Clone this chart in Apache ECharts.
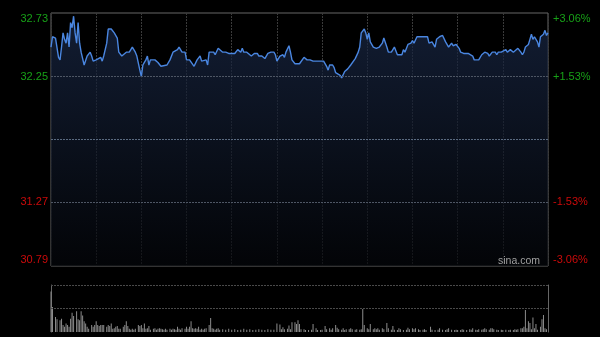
<!DOCTYPE html>
<html>
<head>
<meta charset="utf-8">
<script src="https://cdn.jsdelivr.net/npm/echarts@6/dist/echarts.min.js"></script>
<style>
html,body{margin:0;padding:0;background:#000;}
#chart{width:600px;height:337px;}
</style>
</head>
<body>
<div id="chart"></div>
<script>
// Intraday minutes (0 = open, 330 = close) and prices
var minutes = [0,1,3,4,5,6,7,8,9,10,11,12,13,14,15,16,17,18,19,20,21,22,23,24,26,27,28,30,31,33,34,35,37,38,39,40,41,42,44,45,47,48,50,52,54,55,56,57,59,60,61,62,63,64,65,66,69,71,73,77,79,81,82,84,85,87,89,90,92,93,95,97,99,100,103,104,105,108,109,111,114,116,117,118,122,124,125,126,127,128,130,133,135,137,138,140,142,144,146,148,149,150,152,154,155,156,158,159,160,162,165,166,168,170,171,172,174,177,181,183,184,185,187,188,189,192,193,195,197,198,199,202,204,205,206,208,209,210,211,212,214,216,218,220,221,223,224,226,228,229,230,233,234,235,237,239,240,241,243,247,248,250,251,253,255,256,258,260,261,262,264,266,267,269,271,272,274,277,280,281,284,286,288,290,291,293,295,296,297,299,302,303,305,307,308,310,312,313,314,315,317,318,319,320,321,323,324,325,327,328,329,330];
var prices = [32.48,32.56,32.55,32.56,32.40,32.38,32.48,32.59,32.54,32.51,32.59,32.48,32.67,32.63,32.72,32.59,32.51,32.67,32.51,32.44,32.44,32.34,32.34,32.41,32.44,32.41,32.37,32.38,32.37,32.40,32.37,32.41,32.51,32.62,32.63,32.62,32.63,32.59,32.55,32.44,32.41,32.42,32.44,32.44,32.48,32.46,32.44,32.41,32.30,32.25,32.34,32.36,32.38,32.41,32.34,32.38,32.38,32.36,32.33,32.34,32.38,32.44,32.44,32.46,32.48,32.44,32.44,32.38,32.38,32.37,32.33,32.38,32.41,32.37,32.38,32.34,32.44,32.44,32.42,32.47,32.44,32.44,32.44,32.43,32.43,32.46,32.47,32.44,32.47,32.44,32.44,32.41,32.43,32.43,32.41,32.41,32.39,32.43,32.44,32.44,32.42,32.37,32.41,32.42,32.40,32.44,32.49,32.44,32.38,32.35,32.35,32.34,32.40,32.38,32.37,32.38,32.37,32.37,32.37,32.33,32.30,32.34,32.34,32.32,32.28,32.26,32.24,32.29,32.31,32.30,32.34,32.39,32.44,32.48,32.59,32.62,32.59,32.54,32.59,32.52,32.48,32.47,32.48,32.51,32.55,32.48,32.44,32.44,32.48,32.48,32.42,32.42,32.46,32.44,32.50,32.51,32.53,32.51,32.56,32.56,32.55,32.56,32.51,32.52,32.48,32.54,32.56,32.57,32.56,32.52,32.48,32.51,32.49,32.50,32.47,32.44,32.43,32.43,32.41,32.38,32.38,32.42,32.44,32.43,32.41,32.44,32.44,32.42,32.44,32.44,32.46,32.44,32.46,32.44,32.45,32.47,32.44,32.42,32.44,32.48,32.50,32.54,32.58,32.54,32.56,32.52,32.48,32.56,32.58,32.61,32.57,32.59];

// Volume bars (relative units, 100 = top of volume panel)
var volMinutes = [0,1,3,4,6,7,8,9,10,11,12,13,14,15,17,18,19,20,21,22,23,24,25,27,28,29,30,31,32,33,34,35,37,38,39,40,41,42,43,44,45,46,48,49,50,51,52,53,54,55,56,58,59,60,61,62,63,64,65,66,68,69,70,71,72,73,74,75,76,77,79,80,81,82,83,84,85,86,87,89,90,91,92,93,94,95,96,97,98,99,100,101,102,103,105,106,107,108,109,110,111,112,114,116,118,120,122,124,126,128,130,132,134,136,138,140,142,144,146,148,150,152,153,154,155,157,158,159,160,162,163,164,165,166,168,169,171,173,174,176,177,179,180,182,183,185,186,187,189,190,191,193,194,195,196,198,199,200,202,203,205,206,207,208,210,211,212,214,215,216,217,218,220,221,223,224,226,227,228,230,231,232,234,236,237,238,240,241,242,244,245,247,248,249,252,253,255,257,258,260,262,263,264,266,268,269,270,272,273,274,276,278,279,280,282,283,284,286,287,288,289,291,292,293,294,296,297,299,300,302,304,305,307,308,309,310,312,313,314,315,316,317,318,319,320,321,322,323,325,326,327,328,329];
var volumes = [86,53,32,27,25,28,15,11,18,15,11,28,41,34,44,27,25,44,35,23,18,11,7,15,11,15,23,15,13,15,15,15,11,15,13,18,7,8,11,13,7,7,11,15,23,13,7,5,7,5,7,15,13,15,8,18,7,8,13,5,7,8,5,7,8,7,6,5,7,5,7,5,7,6,5,11,7,5,8,7,11,7,11,23,8,7,8,7,11,5,7,5,7,8,15,30,8,7,5,7,8,5,6,5,7,5,6,4,5,7,5,6,4,5,6,5,4,6,5,5,18,16,6,10,6,7,14,6,21,21,17,25,17,6,6,4,4,5,17,8,4,4,5,13,6,8,5,8,15,9,6,5,8,4,6,6,8,6,5,6,5,6,49,15,8,6,17,6,8,6,8,5,8,6,19,8,5,13,5,4,8,6,4,5,9,6,8,6,8,6,4,5,6,4,11,5,4,5,8,5,4,6,8,5,4,5,4,4,6,5,4,6,5,8,5,4,6,5,6,8,6,5,8,8,6,5,4,5,4,5,4,5,4,6,5,6,8,8,11,47,8,23,19,6,31,8,17,5,11,27,36,8,6];

// Axis tick values and labels
var priceTicks = [32.73, 32.25, 31.27, 30.79];
var percentLabels = ['+3.06%', '+1.53%', '-1.53%', '-3.06%'];
var gridPrices = [32.25, 31.76, 31.27];
var volGridLevels = [50, 100];
var prevClose = 31.76;

var chart = echarts.init(document.getElementById('chart'), null, {renderer: 'canvas'});
var FONT = "'Liberation Sans', Arial, sans-serif";
var GREEN = '#17a017', RED = '#cc0a0a';

function labelFmt(texts) {
  return function (v) {
    var i = -1;
    for (var k = 0; k < priceTicks.length; k++) if (Math.abs(priceTicks[k] - v) < 1e-6) i = k;
    if (i < 0) return '';
    var txt = texts ? texts[i] : priceTicks[i].toFixed(2);
    var up = priceTicks[i] > prevClose;
    var style = (up ? 'g' : 'r') + (i === 0 ? 'T' : (i === priceTicks.length - 1 ? 'B' : 'M'));
    return '{' + style + '|' + txt + '}';
  };
}
var rich = {
  gT: {color: GREEN, fontSize: 11, fontFamily: FONT, padding: [8, 0, 0, 0]},
  gM: {color: GREEN, fontSize: 11, fontFamily: FONT},
  gB: {color: GREEN, fontSize: 11, fontFamily: FONT, padding: [0, 0, 8, 0]},
  rT: {color: RED, fontSize: 11, fontFamily: FONT, padding: [8, 0, 0, 0]},
  rM: {color: RED, fontSize: 11, fontFamily: FONT},
  rB: {color: RED, fontSize: 11, fontFamily: FONT, padding: [0, 0, 8, 0]}
};

var lineData = minutes.map(function (m, i) { return [m, prices[i]]; });
var volData = volMinutes.map(function (m, i) { return [m, volumes[i]]; });
var YMIN = 30.775, YMAX = 32.745;

chart.setOption({
  backgroundColor: '#000',
  animation: false,
  grid: [
    {left: 51, top: 13, width: 497, height: 253, show: true, borderColor: '#666', borderWidth: 1, backgroundColor: 'transparent'},
    {left: 51, top: 285, width: 497, height: 47, show: false}
  ],
  xAxis: [
    {gridIndex: 0, type: 'value', min: 0, max: 330, interval: 30,
     axisLine: {show: false}, axisTick: {show: false}, axisLabel: {show: false},
     splitLine: {show: true, lineStyle: {color: '#3a3a3a', type: [2, 1], width: 1}}},
    {gridIndex: 1, type: 'value', min: 0, max: 330, interval: 30,
     axisLine: {show: false}, axisTick: {show: false}, axisLabel: {show: false}, splitLine: {show: false}}
  ],
  yAxis: [
    {gridIndex: 0, type: 'value', min: YMIN, max: YMAX, position: 'left',
     axisLine: {show: false}, axisTick: {show: false}, splitLine: {show: false},
     axisLabel: {show: true, customValues: priceTicks, margin: 3, formatter: labelFmt(null), rich: rich}},
    {gridIndex: 0, type: 'value', min: YMIN, max: YMAX, position: 'right',
     axisLine: {show: false}, axisTick: {show: false}, splitLine: {show: false},
     axisLabel: {show: true, customValues: priceTicks, margin: 5, formatter: labelFmt(percentLabels), rich: rich}},
    {gridIndex: 1, type: 'value', min: 0, max: 100, interval: 50, position: 'left',
     axisLine: {show: true, lineStyle: {color: '#666', width: 1}}, axisTick: {show: false}, axisLabel: {show: false},
     splitLine: {show: false}},
    {gridIndex: 1, type: 'value', min: 0, max: 100, position: 'right',
     axisLine: {show: true, lineStyle: {color: '#666', width: 1}}, axisTick: {show: false}, axisLabel: {show: false},
     splitLine: {show: false}}
  ],
  series: [
    {
      type: 'line', xAxisIndex: 0, yAxisIndex: 0, data: lineData,
      showSymbol: false, smooth: false,
      lineStyle: {color: '#4a86e0', width: 1.4},
      areaStyle: {origin: 'start', color: new echarts.graphic.LinearGradient(0, 0, 0, 1, [
        {offset: 0, color: '#1a2948'}, {offset: 1, color: '#04060a'}])},
      markLine: {
        silent: true, symbol: ['none', 'none'], label: {show: false},
        data: gridPrices.map(function (p, i) {
          return {yAxis: p, lineStyle: {color: i === 1 ? '#5a6a80' : '#4e5664', type: [2, 1], width: 1}};
        })
      },
      z: 3
    },
    {
      type: 'bar', xAxisIndex: 1, yAxisIndex: 2, data: volData,
      barWidth: 1, itemStyle: {color: '#8c8c8c'},
      markLine: {
        silent: true, symbol: ['none', 'none'], label: {show: false},
        lineStyle: {color: '#4a4a4a', type: [2, 1], width: 1},
        data: volGridLevels.map(function (v) { return {yAxis: v}; })
      }
    }
  ],
  graphic: [
    {type: 'text', left: 498, top: 256, z: 10, style: {text: 'sina.com', fill: '#a0a0a0', font: "10.5px 'Liberation Sans', Arial, sans-serif"}}
  ]
});
</script>
</body>
</html>
